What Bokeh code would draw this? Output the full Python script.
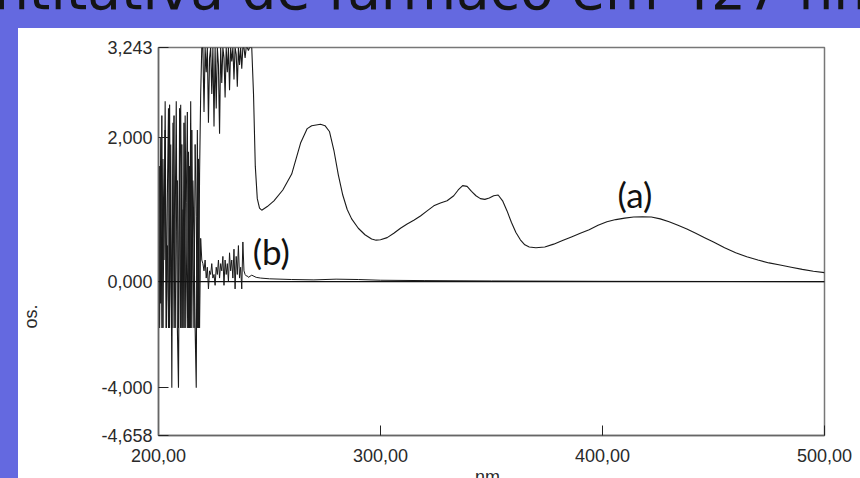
import numpy as np
from bokeh.plotting import figure
from bokeh.models import Range1d, FixedTicker, Label, Span, Div
from bokeh.layouts import column, row
from bokeh.embed import file_html
from bokeh.resources import INLINE

# ---------------- data ----------------
# y values are in the chart's displayed coordinate (tick "-4,000" sits at -1.466,
# bottom "-4,658" at -2.13 as drawn in the reference)
y_tick_pos = [3.243, 2.0, 0.0, -1.466, -2.13]
y_tick_lab = ["3,243", "2,000", "0,000", "-4,000", "-4,658"]
x_tick_pos = [200, 300, 400, 500]
x_tick_lab = ["200,00", "300,00", "400,00", "500,00"]

title_text = "ntitativa de fármaco em 427 nm"
x_label = "nm"
y_label = "os."

noise_start, noise_step = 200.0, 0.5
a_noise = [1.30, -0.64, 2.00, -0.64, 1.70, 0.30, 2.50, -0.64, 1.20, 2.40,
           -0.64, 1.90, -1.47, 2.20, -0.64, 0.80, 2.50, -0.64, -1.47, 1.60,
           2.45, -0.64, 1.00, -0.64, 2.30, 0.40, -0.64, 1.80, -0.64, 2.50,
           -0.64, 1.40, 0.60, -0.64, -1.47, 2.10, -0.64, 1.50, 2.60, 3.243]
b_noise = [-0.64, 1.60, -0.30, 2.30, -0.64, 1.00, 2.10, -0.64, 0.50, -0.64,
           2.45, 0.20, -0.64, 1.50, 2.30, -0.64, 0.70, 1.40, -0.64, 2.40,
           -0.64, 1.90, -0.64, 2.20, -0.64, 1.10, 2.35, -0.64, 1.60, -0.64,
           2.10, 0.60, -0.64, 1.90, 0.90, -0.64, 1.70, -0.64, 0.60, 0.30]

sat_start, sat_step = 220.0, 0.5
a_sat = [3.243, 2.35, 3.243, 2.90, 3.243, 2.20, 3.10, 3.243,
         2.60, 3.243, 2.15, 3.243, 2.40, 3.243, 3.00, 2.05,
         3.243, 2.75, 3.243, 3.10, 2.55, 3.243, 2.90, 3.243,
         2.65, 3.243, 3.05, 3.243, 2.80, 3.243, 3.15, 2.70,
         3.243, 3.00, 3.243, 2.95, 3.243, 3.243, 3.10, 3.243,
         3.243, 3.20, 3.243, 3.243]
b_low = [0.25, 0.15, 0.30, 0.05, 0.20, -0.10, 0.15, 0.10,
         0.25, 0.05, 0.10, -0.05, 0.20, 0.10, 0.30, 0.05,
         0.25, 0.15, 0.35, -0.05, 0.30, 0.10, 0.25, 0.00,
         0.40, 0.15, 0.30, 0.05, 0.45, -0.10, 0.35, 0.10,
         0.50, 0.05, 0.20, -0.10, 0.55, 0.15, 0.10, 0.08]

a_nm = [242.0, 242.8, 243.6, 244.5, 245.5, 246.5, 249, 252, 256, 260, 264, 267, 269,
        271, 273, 275, 277, 279, 281, 283, 285, 287, 290, 293, 296, 298, 300, 303,
        306, 309, 312, 315, 318, 321, 324, 327, 330, 333, 335, 337, 339, 341, 343,
        345, 347, 349, 351, 353, 355, 357, 359, 361, 363, 365, 367, 370, 374, 378,
        382, 386, 390, 394, 398, 402, 406, 410, 414, 418, 422, 426, 430, 434, 438,
        442, 446, 450, 455, 460, 465, 470, 475, 480, 485, 490, 495, 500]
a_abs = [3.243, 2.60, 1.60, 1.15, 1.02, 0.99, 1.04, 1.12, 1.27, 1.49, 1.92, 2.12, 2.16,
         2.17, 2.18, 2.16, 2.08, 1.82, 1.48, 1.20, 1.00, 0.87, 0.74, 0.65, 0.59, 0.575,
         0.58, 0.61, 0.67, 0.74, 0.80, 0.85, 0.91, 0.98, 1.05, 1.09, 1.12, 1.19, 1.27,
         1.33, 1.32, 1.25, 1.19, 1.15, 1.14, 1.16, 1.19, 1.20, 1.12, 0.98, 0.82, 0.68,
         0.58, 0.51, 0.48, 0.47, 0.48, 0.52, 0.57, 0.62, 0.67, 0.72, 0.78, 0.83, 0.86,
         0.88, 0.895, 0.90, 0.895, 0.87, 0.83, 0.78, 0.73, 0.67, 0.61, 0.55, 0.47, 0.40,
         0.345, 0.30, 0.26, 0.23, 0.20, 0.17, 0.145, 0.125]

b_nm = [240.0, 240.5, 242, 244, 246, 250, 260, 270, 280, 290, 300, 320, 350, 400, 450, 500]
b_abs = [0.08, 0.06, 0.09, 0.06, 0.05, 0.04, 0.03, 0.025, 0.035, 0.03, 0.02, 0.015,
         0.01, 0.005, 0.003, 0.0]

label_a = ("(a)", 414.6, 1.21)
label_b = ("(b)", 250.8, 0.43)

# ---------------- build series ----------------
noise_x = list(noise_start + noise_step * np.arange(len(a_noise)))
sat_x = list(sat_start + sat_step * np.arange(len(a_sat)))
low_x = list(sat_start + sat_step * np.arange(len(b_low)))

a_x = noise_x + sat_x + a_nm
a_y = a_noise + a_sat + a_abs
b_x = noise_x + low_x + b_nm
b_y = b_noise + b_low + b_abs

BLUE = "#6469E0"
PW, PH = 842, 440

p = figure(width=PW, height=PH, output_backend="svg", toolbar_location=None,
           x_range=Range1d(200, 500), y_range=Range1d(-2.13, 3.243),
           min_border_left=139, min_border_right=36, min_border_top=19,
           min_border_bottom=33)
p.margin = 0
p.border_fill_color = "white"
p.background_fill_color = "white"
p.outline_line_color = "#777777"
p.outline_line_width = 1.5
p.grid.visible = False

p.add_layout(Span(location=0, dimension="width", line_color="#111111", line_width=1.2))
p.line(b_x, b_y, line_color="#1a1a1a", line_width=1)
p.line(a_x, a_y, line_color="#1a1a1a", line_width=1.1)

for ax in (p.xaxis[0], p.yaxis[0]):
    ax.axis_line_color = "#666666"
    ax.axis_line_width = 1.5
    ax.major_tick_in = 10
    ax.major_tick_out = 0
    ax.major_tick_line_color = "#222222"
    ax.minor_tick_line_color = None
    ax.major_label_text_font = "Liberation Sans"
    ax.major_label_text_font_size = "18px"
    ax.major_label_text_color = "#2a2a2a"
    ax.axis_label_text_font = "Liberation Sans"
    ax.axis_label_text_font_size = "18px"
    ax.axis_label_text_font_style = "normal"
    ax.axis_label_text_color = "#2a2a2a"

p.yaxis[0].ticker = FixedTicker(ticks=y_tick_pos)
p.yaxis[0].major_label_overrides = {t: l for t, l in zip(y_tick_pos, y_tick_lab)}
p.yaxis[0].major_label_standoff = 6
p.yaxis[0].axis_label = y_label + "\u00a0" * 30
p.yaxis[0].axis_label_standoff = 57
p.xaxis[0].ticker = FixedTicker(ticks=x_tick_pos)
p.xaxis[0].major_label_overrides = {t: l for t, l in zip(x_tick_pos, x_tick_lab)}
p.xaxis[0].major_label_standoff = 13

for txt, lx, ly in (label_a, label_b):
    p.add_layout(Label(x=lx, y=ly, text=txt, text_font="Lato", text_font_size="35px",
                       text_color="#111111", text_align="center",
                       text_baseline="middle"))

title_html = ('<div style="font-family:\'DejaVu Sans\';font-size:55px;line-height:55px;'
              'white-space:nowrap;color:#141414;position:relative;top:-37px;left:-6px;">'
              + title_text + '</div>')
title_div = Div(text=title_html, width=860, height=28, margin=0,
                styles={"background-color": BLUE, "overflow": "hidden"})
left_div = Div(text="", width=18, height=450, margin=0,
               styles={"background-color": BLUE})
nm_html = ('<div style="font-family:\'Liberation Sans\';font-size:18px;line-height:18px;'
           'white-space:nowrap;color:#2a2a2a;position:relative;top:0px;left:457px;">'
           + x_label + '</div>')
nm_div = Div(text=nm_html, width=PW, height=10, margin=0,
             styles={"background-color": "white", "overflow": "hidden"})

layout = column(title_div,
                row(left_div, column(p, nm_div, spacing=0), spacing=0),
                spacing=0)

open("out.html", "w").write(file_html(layout, INLINE))
